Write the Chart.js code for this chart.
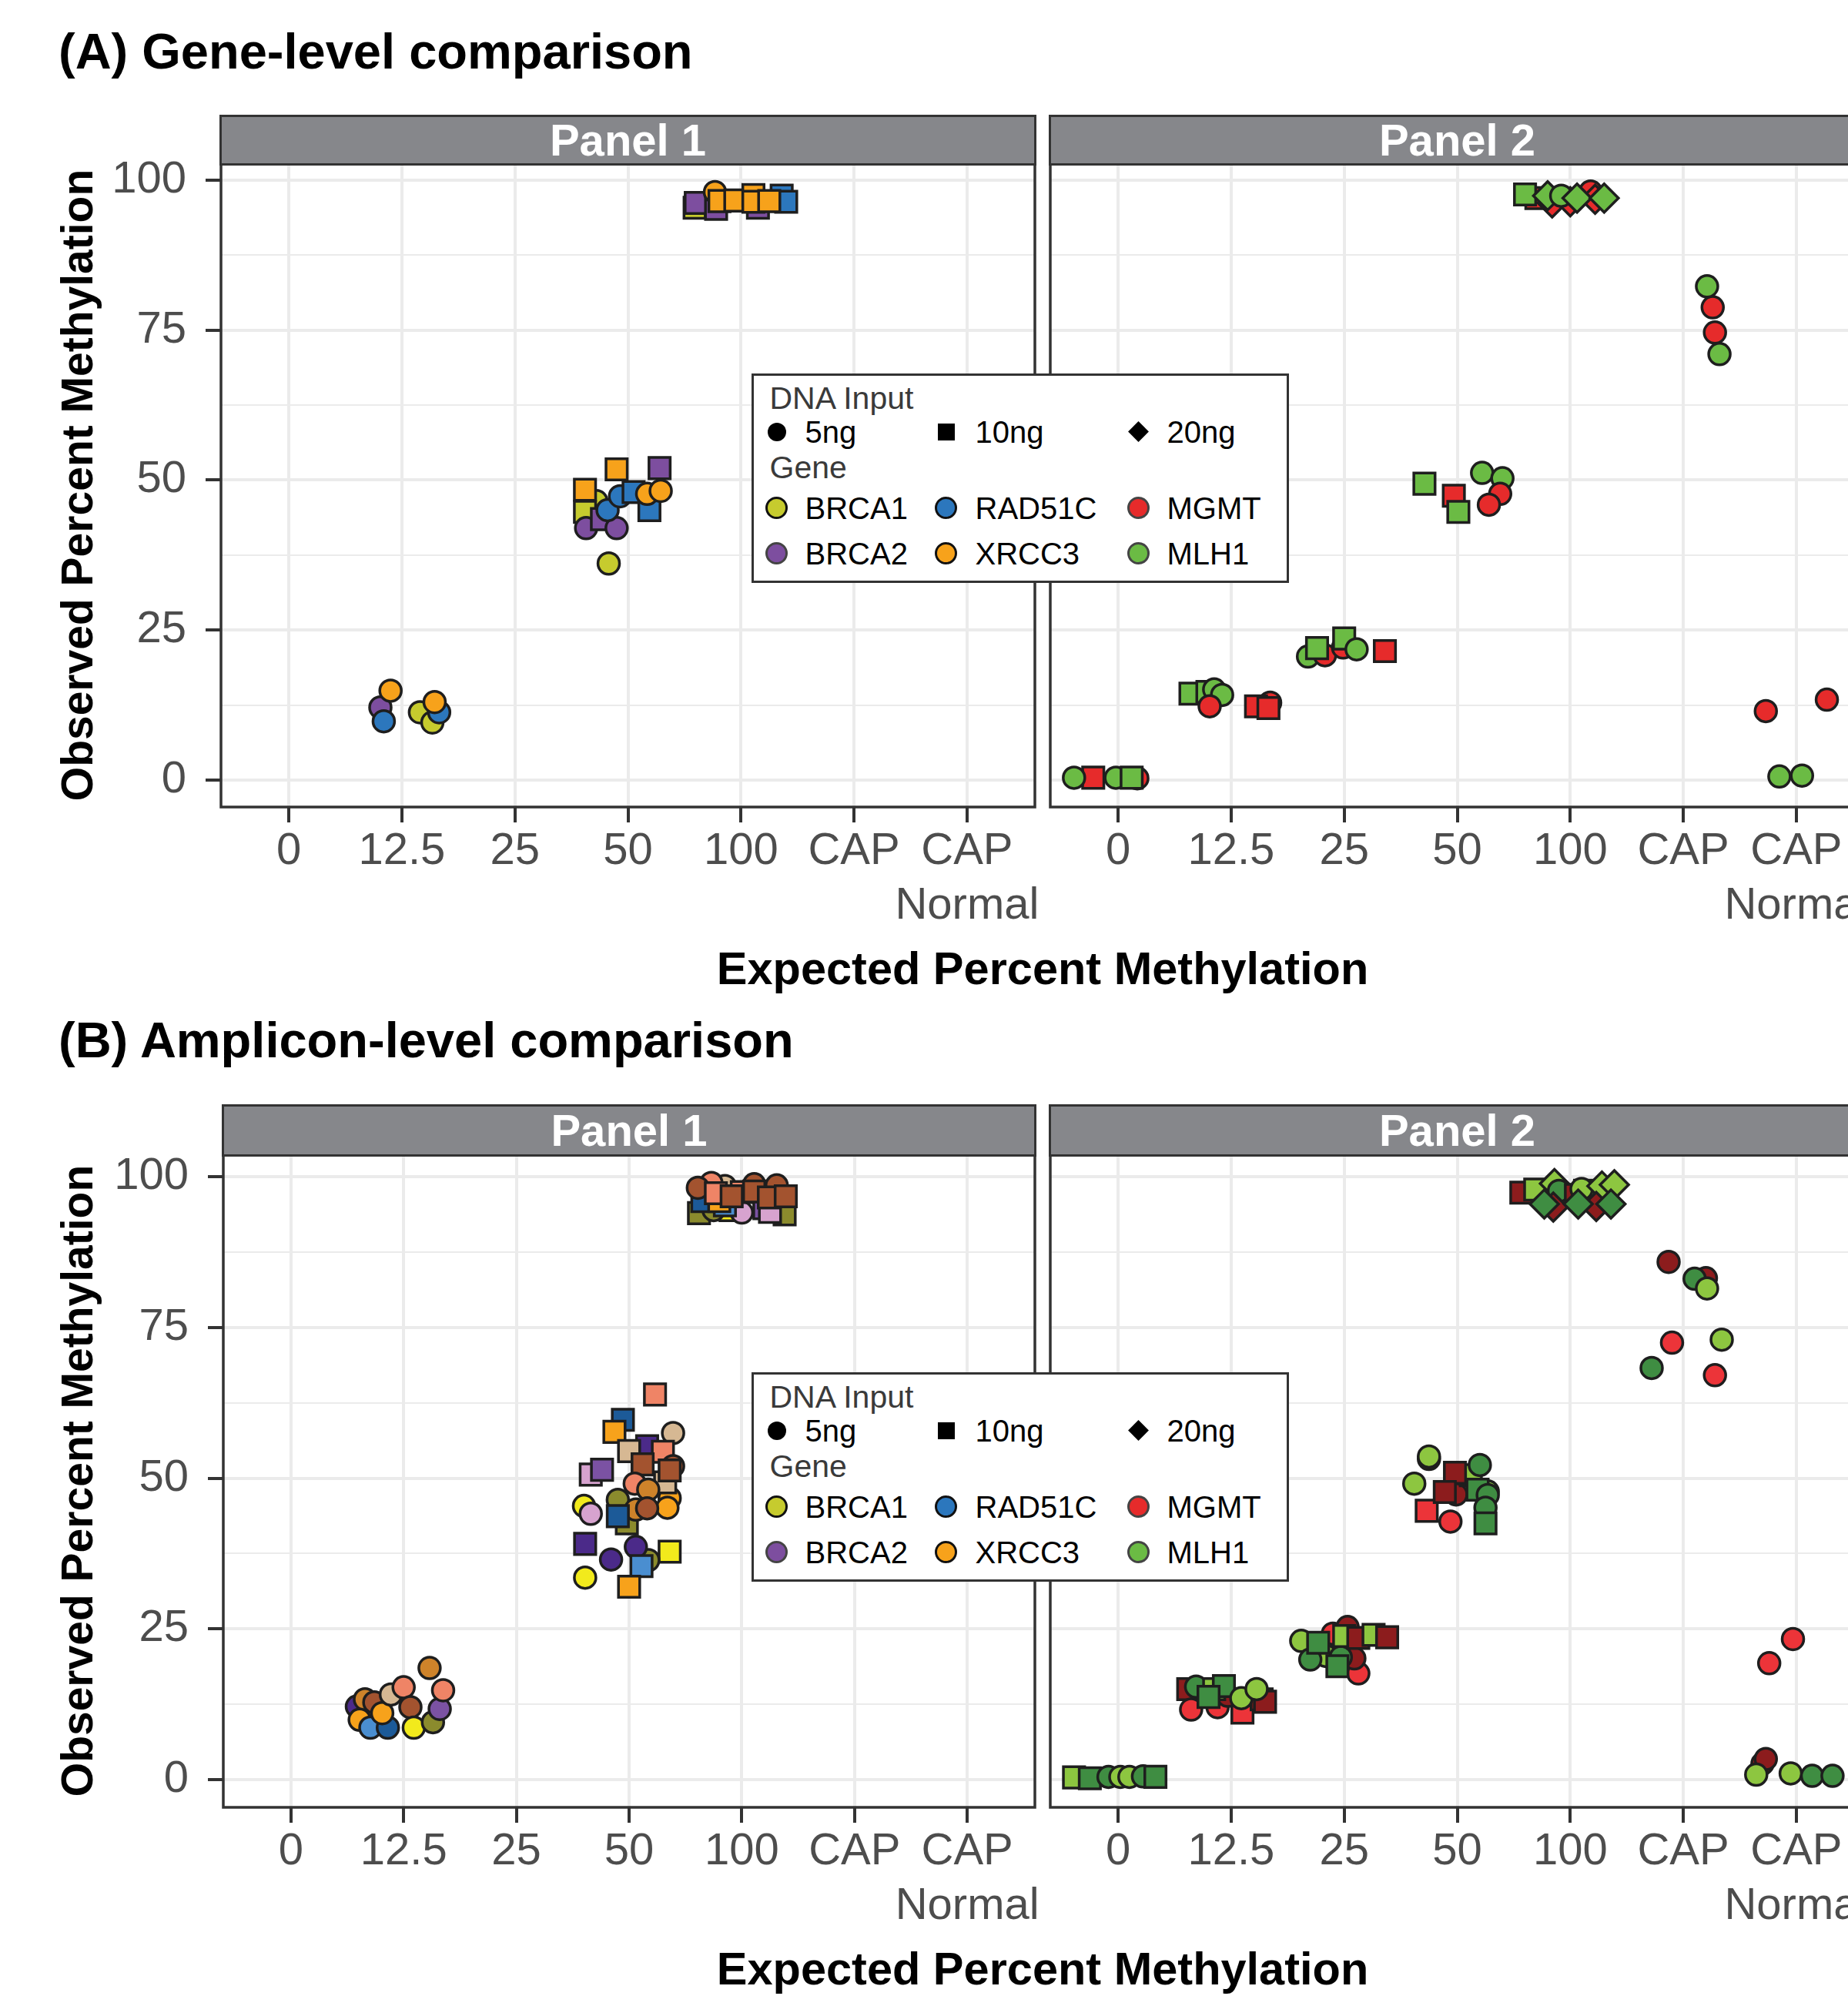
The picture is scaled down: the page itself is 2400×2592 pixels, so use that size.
<!DOCTYPE html>
<html lang="en">
<head>
<meta charset="utf-8">
<title>Observed vs expected percent methylation</title>
<script src="https://cdn.jsdelivr.net/npm/chart.js@4/dist/chart.umd.min.js"></script>
<style>
  html, body { margin: 0; padding: 0; background: #fff; overflow: hidden; }
  body { position: relative; width: 2400px; height: 2592px; font-family: "Liberation Sans", Arial, Helvetica, sans-serif; }
  canvas { position: absolute; }
  .txt { position: absolute; line-height: 1; white-space: nowrap; }
  .fig-title { left: 76px; font-size: 65px; font-weight: bold; color: #000; transform: translateY(-50%); }
  .axis-title { font-size: 59.5px; font-weight: bold; color: #000; transform: translate(-50%, -50%); }
  .axis-title.y { font-size: 57px; transform: translate(-50%, -50%) rotate(-90deg); }
  .strip { position: absolute; box-sizing: border-box; background: #86878b; border: 3.5px solid #333;
           color: #fff; font-size: 58px; font-weight: bold; line-height: 1;
           display: flex; align-items: center; justify-content: center; }
  .legend { position: absolute; left: 976px; width: 698px; height: 272px; box-sizing: border-box;
            border: 3.5px solid #333; background: #fff; z-index: 5; }
  .legend .txt { transform: translateY(-50%); font-size: 40px; color: #000; }
  .legend .ttl { font-size: 41px; color: #3a3a3a; }
  .key { position: absolute; box-sizing: border-box; }
</style>
</head>
<body>
<div class="txt fig-title" style="top:66px">(A) Gene-level comparison</div>
<div class="txt fig-title" style="top:1350px">(B) Amplicon-level comparison</div>
<div class="txt axis-title y" style="left:100px; top:630px">Observed Percent Methylation</div>
<div class="txt axis-title y" style="left:100px; top:1923px">Observed Percent Methylation</div>
<div class="txt axis-title" style="left:1354px; top:1258px">Expected Percent Methylation</div>
<div class="txt axis-title" style="left:1354px; top:2557px">Expected Percent Methylation</div>

<script>
// ---- data -------------------------------------------------------------
const categories = ['0', '12.5', '25', '50', '100', 'CAP', ['CAP', 'Normal']];
const yGridValues = [0, 12.5, 25, 37.5, 50, 62.5, 75, 87.5, 100];
const yLabelValues = [0, 25, 50, 75, 100];
const dnaInputs = ['5ng', '10ng', '20ng'];
const genes = ['BRCA1', 'BRCA2', 'RAD51C', 'XRCC3', 'MGMT', 'MLH1'];
const panelNames = ['Panel 1', 'Panel 2'];

// each row: [expected category index + jitter, observed %, gene / amplicon, DNA input]
const genePanel1 = [
  [1.16, 11.3, 'BRCA1', '5ng'], [1.27, 9.6, 'BRCA1', '5ng'],
  [0.81, 12.1, 'BRCA2', '5ng'],
  [0.84, 9.8, 'RAD51C', '5ng'], [1.33, 11.3, 'RAD51C', '5ng'],
  [0.90, 14.9, 'XRCC3', '5ng'], [1.29, 13.0, 'XRCC3', '5ng'],

  [2.72, 46.5, 'BRCA1', '5ng'], [2.62, 44.7, 'BRCA1', '10ng'], [2.83, 36.1, 'BRCA1', '5ng'],
  [2.63, 42.0, 'BRCA2', '5ng'], [2.77, 43.5, 'BRCA2', '10ng'], [2.90, 42.0, 'BRCA2', '5ng'], [3.28, 52.0, 'BRCA2', '10ng'],
  [2.82, 45.0, 'RAD51C', '5ng'], [2.93, 47.3, 'RAD51C', '5ng'], [3.05, 48.0, 'RAD51C', '10ng'], [3.19, 45.0, 'RAD51C', '10ng'],
  [2.62, 48.4, 'XRCC3', '10ng'], [2.90, 51.8, 'XRCC3', '10ng'], [3.17, 47.7, 'XRCC3', '5ng'], [3.29, 48.2, 'XRCC3', '5ng'],

  [3.59, 95.4, 'BRCA1', '10ng'],
  [3.60, 96.2, 'BRCA2', '10ng'], [3.78, 95.2, 'BRCA2', '10ng'], [4.15, 95.4, 'BRCA2', '10ng'],
  [4.36, 97.4, 'RAD51C', '10ng'], [4.40, 96.4, 'RAD51C', '10ng'],
  [3.77, 98.0, 'XRCC3', '5ng'], [3.81, 96.5, 'XRCC3', '10ng'], [3.95, 96.6, 'XRCC3', '10ng'],
  [4.11, 97.5, 'XRCC3', '10ng'], [4.11, 96.4, 'XRCC3', '10ng'], [4.25, 96.5, 'XRCC3', '10ng']
];

const genePanel2 = [
  [0.17, 0.3, 'MGMT', '5ng'], [-0.22, 0.4, 'MGMT', '10ng'],
  [-0.39, 0.4, 'MLH1', '5ng'], [-0.02, 0.4, 'MLH1', '5ng'], [0.12, 0.4, 'MLH1', '10ng'],

  [0.64, 14.4, 'MLH1', '10ng'], [0.79, 14.7, 'MLH1', '10ng'], [0.85, 15.1, 'MLH1', '5ng'], [0.92, 14.2, 'MLH1', '5ng'],
  [0.81, 12.3, 'MGMT', '5ng'], [1.345, 12.9, 'MGMT', '5ng'], [1.22, 12.3, 'MGMT', '10ng'], [1.33, 12.0, 'MGMT', '10ng'],

  [1.68, 20.6, 'MLH1', '5ng'], [1.83, 20.8, 'MGMT', '5ng'], [1.76, 22.0, 'MLH1', '10ng'],
  [1.99, 22.1, 'MGMT', '5ng'], [2.0, 23.6, 'MLH1', '10ng'], [2.11, 21.8, 'MLH1', '5ng'], [2.36, 21.5, 'MGMT', '10ng'],

  [2.71, 49.4, 'MLH1', '10ng'], [3.22, 51.2, 'MLH1', '5ng'], [3.40, 50.3, 'MLH1', '5ng'],
  [2.97, 47.4, 'MGMT', '10ng'], [3.38, 47.7, 'MGMT', '5ng'], [3.28, 45.9, 'MGMT', '5ng'], [3.01, 44.7, 'MLH1', '10ng'],

  [3.70, 97.0, 'MGMT', '10ng'], [3.84, 96.2, 'MGMT', '20ng'], [4.00, 96.4, 'MGMT', '20ng'], [4.18, 98.1, 'MGMT', '5ng'], [4.22, 96.8, 'MGMT', '20ng'],
  [3.60, 97.6, 'MLH1', '10ng'], [3.80, 97.4, 'MLH1', '20ng'], [3.92, 97.4, 'MLH1', '5ng'],
  [4.06, 97.0, 'MLH1', '20ng'], [4.30, 97.0, 'MLH1', '20ng'],

  [5.26, 78.8, 'MGMT', '5ng'], [5.28, 74.6, 'MGMT', '5ng'], [5.21, 82.3, 'MLH1', '5ng'], [5.32, 71.0, 'MLH1', '5ng'],
  [5.73, 11.5, 'MGMT', '5ng'], [6.27, 13.4, 'MGMT', '5ng'], [5.85, 0.6, 'MLH1', '5ng'], [6.05, 0.75, 'MLH1', '5ng']
];

const ampliconPanel1 = [
  [0.585, 12.1, 'BRCA2-1', '5ng'], [0.657, 13.3, 'XRCC3-2', '5ng'], [0.61, 9.9, 'XRCC3-1', '5ng'],
  [0.705, 8.6, 'RAD51C-2', '5ng'], [0.74, 12.8, 'XRCC3-5', '5ng'], [0.86, 8.6, 'RAD51C-1', '5ng'],
  [0.81, 11.0, 'XRCC3-1', '5ng'], [0.887, 14.1, 'XRCC3-3', '5ng'], [1.0, 15.3, 'XRCC3-4', '5ng'],
  [1.06, 12.0, 'XRCC3-5', '5ng'], [1.09, 8.6, 'BRCA1-1', '5ng'], [1.26, 9.5, 'BRCA1-2', '5ng'],
  [1.32, 11.7, 'BRCA2-2', '5ng'], [1.35, 14.8, 'XRCC3-4', '5ng'], [1.23, 18.5, 'XRCC3-2', '5ng'],

  [2.60, 45.4, 'BRCA1-1', '5ng'], [2.61, 33.5, 'BRCA1-1', '5ng'], [3.36, 37.8, 'BRCA1-1', '10ng'],
  [2.90, 46.4, 'BRCA1-2', '5ng'], [2.98, 42.5, 'BRCA1-2', '10ng'], [3.17, 36.4, 'BRCA1-2', '5ng'],
  [2.61, 39.1, 'BRCA2-1', '10ng'], [2.84, 36.5, 'BRCA2-1', '5ng'], [3.06, 38.6, 'BRCA2-1', '5ng'], [3.16, 55.3, 'BRCA2-1', '10ng'],
  [2.66, 50.6, 'BRCA2-3', '10ng'], [2.76, 51.4, 'BRCA2-2', '10ng'], [2.66, 44.1, 'BRCA2-3', '5ng'],
  [2.945, 59.7, 'RAD51C-1', '10ng'], [3.11, 35.4, 'RAD51C-2', '10ng'],
  [2.87, 57.7, 'XRCC3-1', '10ng'], [3.0, 32.0, 'XRCC3-1', '10ng'], [3.36, 46.7, 'XRCC3-1', '5ng'], [3.34, 45.1, 'XRCC3-1', '5ng'],
  [3.39, 57.5, 'XRCC3-3', '5ng'], [3.0, 54.5, 'XRCC3-3', '10ng'], [3.32, 49.3, 'XRCC3-3', '10ng'],
  [3.23, 63.9, 'XRCC3-4', '10ng'], [3.30, 54.4, 'XRCC3-4', '10ng'],
  [3.39, 52.0, 'XRCC3-5', '5ng'], [3.12, 52.3, 'XRCC3-5', '10ng'], [3.36, 51.3, 'XRCC3-5', '10ng'],
  [3.05, 49.1, 'XRCC3-4', '5ng'], [3.17, 48.1, 'XRCC3-2', '5ng'], [3.06, 44.8, 'XRCC3-2', '5ng'],
  [3.16, 45.0, 'XRCC3-5', '5ng'], [2.90, 43.7, 'RAD51C-1', '10ng'],

  [3.62, 94.0, 'BRCA1-2', '10ng'], [4.38, 93.8, 'BRCA1-2', '10ng'], [3.90, 94.5, 'BRCA1-1', '10ng'], [3.75, 94.5, 'BRCA1-2', '5ng'],
  [4.0, 94.1, 'BRCA2-3', '5ng'], [4.20, 94.8, 'BRCA2-2', '10ng'], [4.25, 94.2, 'BRCA2-3', '10ng'],
  [3.85, 95.3, 'RAD51C-2', '10ng'], [3.65, 96.0, 'RAD51C-1', '10ng'], [3.80, 96.0, 'XRCC3-1', '10ng'],
  [3.85, 98.5, 'XRCC3-3', '5ng'], [3.73, 99.0, 'XRCC3-4', '5ng'], [4.0, 97.5, 'XRCC3-4', '10ng'],
  [3.61, 98.2, 'XRCC3-5', '5ng'], [3.77, 97.3, 'XRCC3-4', '10ng'], [3.91, 96.8, 'XRCC3-5', '10ng'],
  [4.11, 98.8, 'XRCC3-5', '5ng'], [4.11, 97.6, 'XRCC3-5', '10ng'], [4.31, 98.6, 'XRCC3-5', '5ng'],
  [4.24, 96.6, 'XRCC3-5', '10ng'], [4.39, 96.8, 'XRCC3-5', '10ng']
];

const ampliconPanel2 = [
  [-0.39, 0.34, 'MLH1-1', '10ng'], [-0.25, 0.2, 'MLH1-2', '10ng'], [-0.085, 0.43, 'MLH1-2', '5ng'],
  [0.02, 0.43, 'MLH1-1', '5ng'], [0.10, 0.43, 'MLH1-1', '5ng'], [0.22, 0.5, 'MLH1-2', '5ng'], [0.33, 0.43, 'MLH1-2', '10ng'],

  [0.62, 15.0, 'MGMT-2', '10ng'], [0.646, 11.6, 'MGMT-1', '5ng'], [0.88, 12.0, 'MGMT-1', '5ng'], [1.10, 11.1, 'MGMT-1', '10ng'],
  [0.97, 13.9, 'MGMT-2', '5ng'], [1.27, 13.3, 'MGMT-2', '10ng'], [1.30, 12.9, 'MGMT-2', '10ng'],
  [0.69, 15.4, 'MLH1-2', '5ng'], [0.85, 15.0, 'MLH1-1', '10ng'], [0.936, 15.5, 'MLH1-2', '10ng'], [0.80, 13.7, 'MLH1-2', '10ng'],
  [1.09, 13.5, 'MLH1-1', '5ng'], [1.225, 15.0, 'MLH1-1', '5ng'],

  [1.90, 24.2, 'MGMT-1', '5ng'], [2.125, 17.6, 'MGMT-1', '5ng'], [2.03, 25.3, 'MGMT-2', '5ng'], [2.09, 20.1, 'MGMT-2', '5ng'],
  [1.62, 23.0, 'MLH1-1', '5ng'], [1.84, 20.5, 'MLH1-1', '5ng'], [1.70, 19.9, 'MLH1-2', '5ng'], [1.97, 20.3, 'MLH1-2', '5ng'],
  [1.77, 22.7, 'MLH1-2', '10ng'], [1.94, 18.8, 'MLH1-2', '10ng'],
  [2.0, 23.8, 'MLH1-1', '10ng'], [2.125, 23.5, 'MGMT-2', '10ng'], [2.26, 24.0, 'MLH1-1', '10ng'], [2.38, 23.6, 'MGMT-2', '10ng'],

  [2.73, 44.6, 'MGMT-1', '10ng'], [2.94, 42.8, 'MGMT-1', '5ng'], [2.99, 47.3, 'MGMT-2', '5ng'], [2.75, 53.2, 'MGMT-2', '5ng'],
  [2.75, 53.6, 'MLH1-1', '5ng'], [2.62, 49.1, 'MLH1-1', '5ng'], [3.12, 50.5, 'MLH1-1', '10ng'], [3.27, 47.8, 'MLH1-1', '5ng'],
  [2.98, 50.9, 'MGMT-2', '10ng'], [2.89, 47.7, 'MGMT-2', '10ng'],
  [3.20, 52.2, 'MLH1-2', '5ng'], [3.18, 48.1, 'MLH1-2', '10ng'], [3.27, 47.2, 'MLH1-2', '5ng'], [3.25, 45.1, 'MLH1-2', '5ng'],
  [3.25, 42.5, 'MLH1-2', '10ng'],

  [3.567, 97.4, 'MGMT-2', '10ng'], [3.69, 97.9, 'MLH1-1', '10ng'], [3.86, 98.9, 'MLH1-1', '20ng'], [3.90, 97.7, 'MLH1-2', '5ng'],
  [4.05, 97.0, 'MGMT-2', '10ng'], [4.13, 97.7, 'MLH1-2', '10ng'], [4.10, 98.0, 'MLH1-1', '5ng'],
  [4.28, 98.5, 'MLH1-1', '20ng'], [4.39, 98.7, 'MLH1-1', '20ng'],
  [3.85, 95.0, 'MGMT-2', '20ng'], [4.23, 95.1, 'MGMT-2', '20ng'],
  [3.77, 95.5, 'MLH1-2', '20ng'], [4.07, 95.5, 'MLH1-2', '20ng'], [4.36, 95.5, 'MLH1-2', '20ng'],

  [4.87, 85.9, 'MGMT-2', '5ng'], [5.20, 83.2, 'MGMT-2', '5ng'], [5.10, 83.1, 'MLH1-2', '5ng'], [5.21, 81.5, 'MLH1-1', '5ng'],
  [4.90, 72.5, 'MGMT-1', '5ng'], [5.28, 67.1, 'MGMT-1', '5ng'], [5.34, 73.0, 'MLH1-1', '5ng'], [4.72, 68.3, 'MLH1-2', '5ng'],

  [5.76, 19.3, 'MGMT-1', '5ng'], [5.97, 23.3, 'MGMT-1', '5ng'], [5.70, 2.6, 'MGMT-2', '5ng'], [5.73, 3.4, 'MGMT-2', '5ng'],
  [5.645, 0.8, 'MLH1-1', '5ng'], [5.95, 1.0, 'MLH1-1', '5ng'], [6.14, 0.6, 'MLH1-2', '5ng'], [6.32, 0.6, 'MLH1-2', '5ng']
];

// ---- styles ---------------------------------------------------------------
const geneColors = {
  BRCA1: '#c6cb2e', BRCA2: '#7d4e9f', RAD51C: '#2c77bd',
  XRCC3: '#f7a21b', MGMT: '#e62b2b', MLH1: '#6bbb44'
};
const ampliconColors = {
  'BRCA1-1': '#f2ea1c', 'BRCA1-2': '#8b8b2d',
  'BRCA2-1': '#4b2a89', 'BRCA2-2': '#7b52a3', 'BRCA2-3': '#d7a3cf',
  'RAD51C-1': '#1c5a98', 'RAD51C-2': '#4a8ed0',
  'XRCC3-1': '#f7a21b', 'XRCC3-2': '#ce832a', 'XRCC3-3': '#d6b893', 'XRCC3-4': '#ef8466', 'XRCC3-5': '#a3532f',
  'MGMT-1': '#ec3439', 'MGMT-2': '#8c1c1d',
  'MLH1-1': '#8dc640', 'MLH1-2': '#3f8d42'
};
const shapeFor = { '5ng': 'circle', '10ng': 'rect', '20ng': 'rectRot' };
const radiusFor = { '5ng': 14, '10ng': 19.5, '20ng': 18.5 };
const FONT = '"Liberation Sans", Arial, Helvetica, sans-serif';

Chart.defaults.font.family = FONT;

// dark frame round each facet, drawn over the points like ggplot's panel.border
const panelBorder = {
  id: 'panelBorder',
  afterDraw(chart) {
    const { ctx, chartArea: a } = chart;
    ctx.save();
    ctx.strokeStyle = '#333';
    ctx.lineWidth = 3.5;
    ctx.strokeRect(a.left, a.top, a.right - a.left, a.bottom - a.top);
    ctx.restore();
  }
};

function zeroPadding(scale) {
  scale.paddingLeft = 0; scale.paddingRight = 0;
  scale.paddingTop = 0; scale.paddingBottom = 0;
}

function addStrip(label, left, top, right, plotTop) {
  const d = document.createElement('div');
  d.className = 'strip';
  d.style.left = (left - 1.75) + 'px';
  d.style.top = top + 'px';
  d.style.width = (right - left + 3.5) + 'px';
  d.style.height = (plotTop + 1.75 - top) + 'px';
  d.textContent = label;
  document.body.appendChild(d);
}

function drawPanel(cfg) {
  const padL = cfg.showY ? 0 : 30, padT = 40, padR = 60, axisH = 175;
  const cLeft = cfg.showY ? 0 : cfg.left - padL;
  const cTop = cfg.top - padT;
  const w = cfg.right + padR - cLeft;
  const h = cfg.bottom + axisH - cTop;
  const canvas = document.createElement('canvas');
  canvas.width = w; canvas.height = h;
  canvas.style.left = cLeft + 'px';
  canvas.style.top = cTop + 'px';
  canvas.style.width = w + 'px';
  canvas.style.height = h + 'px';
  document.body.appendChild(canvas);

  const rows = cfg.rows;
  new Chart(canvas, {
    type: 'scatter',
    data: {
      datasets: [{
        data: rows.map(r => ({ x: r[0], y: r[1] })),
        pointStyle: rows.map(r => shapeFor[r[3]]),
        pointRadius: rows.map(r => radiusFor[r[3]]),
        pointBackgroundColor: rows.map(r => cfg.colors[r[2]]),
        pointBorderColor: '#1e1e1e',
        pointBorderWidth: 3.5,
        clip: false
      }]
    },
    options: {
      responsive: false,
      maintainAspectRatio: false,
      devicePixelRatio: 1,
      animation: false,
      events: [],
      layout: { padding: { left: padL, top: padT, right: padR, bottom: 0 } },
      plugins: { legend: { display: false }, tooltip: { enabled: false } },
      scales: {
        x: {
          type: 'linear',
          min: -0.6, max: 6.6,
          afterBuildTicks: s => { s.ticks = categories.map((c, i) => ({ value: i })); },
          ticks: {
            callback: v => categories[Math.round(v)],
            font: { size: 58, lineHeight: 1.22 },
            color: '#4d4d4d',
            padding: 3,
            maxRotation: 0,
            autoSkip: false
          },
          grid: { color: '#ebebeb', lineWidth: 4, tickLength: 20, tickWidth: 4, tickColor: '#333' },
          border: { display: false },
          afterFit: s => { s.height = axisH; zeroPadding(s); }
        },
        y: {
          type: 'linear',
          min: cfg.yMin, max: cfg.yMax,
          afterBuildTicks: s => { s.ticks = yGridValues.map(v => ({ value: v })); },
          ticks: {
            display: cfg.showY,
            callback: v => (yLabelValues.includes(v) ? String(v) : ''),
            font: { size: 58 },
            color: '#4d4d4d',
            padding: 25
          },
          grid: {
            color: '#ebebeb',
            lineWidth: c => (c.tick && yLabelValues.includes(c.tick.value) ? 4 : 2),
            drawTicks: cfg.showY,
            tickLength: 20,
            tickWidth: 4,
            tickColor: c => (c.tick && yLabelValues.includes(c.tick.value) ? '#333' : 'rgba(0,0,0,0)')
          },
          border: { display: false },
          afterFit: s => { s.width = cfg.showY ? cfg.left : 0; zeroPadding(s); }
        }
      }
    },
    plugins: [panelBorder]
  });
}

function addLegend(top) {
  const box = document.createElement('div');
  box.className = 'legend';
  box.style.top = top + 'px';
  const inset = 3.5; // child coordinates are measured from the outer edge of the frame
  function text(str, x, y, cls) {
    const t = document.createElement('div');
    t.className = 'txt' + (cls ? ' ' + cls : '');
    t.style.left = (x - inset) + 'px';
    t.style.top = (y - inset) + 'px';
    t.textContent = str;
    box.appendChild(t);
  }
  function key(x, y, size, css) {
    const k = document.createElement('div');
    k.className = 'key';
    k.style.left = (x - inset - size / 2) + 'px';
    k.style.top = (y - inset - size / 2) + 'px';
    k.style.width = size + 'px';
    k.style.height = size + 'px';
    Object.assign(k.style, css);
    box.appendChild(k);
  }
  const colX = [33, 253, 503];
  const textX = [70, 291, 540];
  text('DNA Input', 24, 32, 'ttl');
  dnaInputs.forEach((lab, i) => {
    if (i === 0) key(colX[i], 76, 24, { borderRadius: '50%', background: '#000' });
    if (i === 1) key(colX[i], 76, 22, { background: '#000' });
    if (i === 2) key(colX[i], 76, 19, { background: '#000', transform: 'rotate(45deg)' });
    text(lab, textX[i], 76);
  });
  text('Gene', 24, 122, 'ttl');
  const rowY = [175, 234];
  genes.forEach((g, i) => {
    const col = Math.floor(i / 2), row = i % 2;
    const dark = ['BRCA1', 'RAD51C', 'XRCC3'].includes(g);
    key(colX[col], rowY[row], 29, {
      borderRadius: '50%', background: geneColors[g],
      border: '3.5px solid ' + (dark ? '#111' : '#444')
    });
    text(g, textX[col], rowY[row]);
  });
  document.body.appendChild(box);
}

// ---- layout of the two figures ----------------------------------------------
const figures = [
  { stripTop: 149, top: 213, bottom: 1048, yMin: -4.49, yMax: 102.68, legendTop: 485,
    panels: [
      { rows: genePanel1, colors: geneColors, left: 287, right: 1344, showY: true },
      { rows: genePanel2, colors: geneColors, left: 1364, right: 2421, showY: false }
    ] },
  { stripTop: 1434, top: 1500, bottom: 2347, yMin: -4.63, yMax: 103.63, legendTop: 1782,
    panels: [
      { rows: ampliconPanel1, colors: ampliconColors, left: 290, right: 1344, showY: true },
      { rows: ampliconPanel2, colors: ampliconColors, left: 1364, right: 2421, showY: false }
    ] }
];

figures.forEach(f => {
  f.panels.forEach((p, i) => {
    drawPanel(Object.assign({ top: f.top, bottom: f.bottom, yMin: f.yMin, yMax: f.yMax }, p));
    addStrip(panelNames[i], p.left, f.stripTop, p.right, f.top);
  });
  addLegend(f.legendTop);
});
</script>
</body>
</html>
